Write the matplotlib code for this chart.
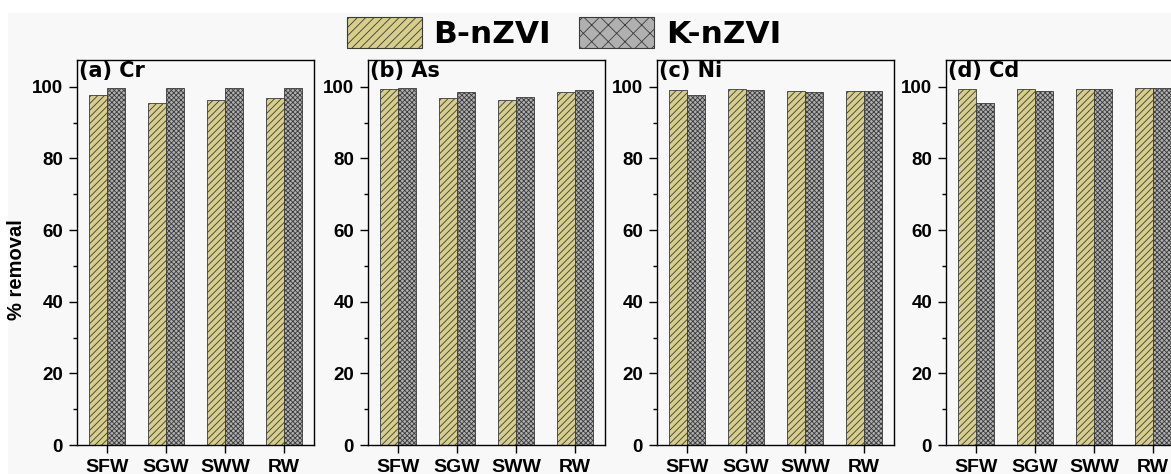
import matplotlib
matplotlib.use("Agg")
import matplotlib.pyplot as plt
from matplotlib.patches import Patch, Rectangle
from matplotlib.ticker import MultipleLocator
import numpy as np

# Water matrices
categories = ["SFW", "SGW", "SWW", "RW"]

# % removal per metal for the two nanomaterials
panel_titles = ["(a) Cr", "(b) As", "(c) Ni", "(d) Cd"]
b_nzvi_cr = [97.7, 95.5, 96.3, 96.8]
k_nzvi_cr = [99.8, 99.8, 99.8, 99.8]
b_nzvi_as = [99.3, 97.0, 96.2, 98.6]
k_nzvi_as = [99.6, 98.6, 97.1, 99.1]
b_nzvi_ni = [99.1, 99.3, 98.8, 98.8]
k_nzvi_ni = [97.8, 99.1, 98.7, 98.8]
b_nzvi_cd = [99.5, 99.3, 99.5, 99.6]
k_nzvi_cd = [95.5, 98.8, 99.4, 99.6]

series_names = ["B-nZVI", "K-nZVI"]
b_sets = [b_nzvi_cr, b_nzvi_as, b_nzvi_ni, b_nzvi_cd]
k_sets = [k_nzvi_cr, k_nzvi_as, k_nzvi_ni, k_nzvi_cd]

B_FACE = "#d6ce8a"
K_FACE = "#b0b0b0"
EDGE = "#3a3a3a"
BG = "#f8f8f8"

plt.rcParams["hatch.linewidth"] = 0.6
plt.rcParams["font.family"] = ["Liberation Sans", "DejaVu Sans"]

W, H = 1171, 474
fig = plt.figure(figsize=(W / 100, H / 100), dpi=100)
fig.patch.set_facecolor("white")
fig.patches.append(Rectangle((8 / W, 0), 1, 1 - 13 / H, transform=fig.transFigure,
                             facecolor=BG, edgecolor="none", zorder=-10))

lefts = [77, 368, 657, 946]
ax_w, ax_top, ax_bot = 237, 60, 445
x = np.arange(len(categories))
bw = 0.305

for i, (left, title) in enumerate(zip(lefts, panel_titles)):
    ax = fig.add_axes([left / W, (H - ax_bot) / H, ax_w / W, (ax_bot - ax_top) / H])
    ax.set_facecolor(BG)
    ax.bar(x - bw / 2, b_sets[i], bw, facecolor=B_FACE, edgecolor=EDGE,
           hatch="/////", linewidth=0.6)
    ax.bar(x + bw / 2, k_sets[i], bw, facecolor=K_FACE, edgecolor=EDGE,
           hatch="xxxxxxx", linewidth=0.6)
    ax.set_xlim(-0.51, 3.51)
    ax.set_ylim(0, 107.5)
    ax.set_xticks(x)
    ax.set_xticklabels(categories, fontsize=14, fontweight="bold")
    ax.yaxis.set_major_locator(MultipleLocator(20))
    ax.yaxis.set_minor_locator(MultipleLocator(10))
    ax.tick_params(axis="y", which="major", length=6, width=1, labelsize=13.5, pad=4)
    ax.tick_params(axis="y", which="minor", length=3, width=1)
    ax.tick_params(axis="x", length=6, width=1, pad=4)
    for lab in ax.get_yticklabels():
        lab.set_fontweight("bold")
    for sp in ax.spines.values():
        sp.set_linewidth(1.0)
        sp.set_color("black")
    ax.text(0.01, 0.998, title, transform=ax.transAxes, ha="left", va="top",
            fontsize=15, fontweight="bold", family="DejaVu Sans")

fig.text(17 / W, 1 - 270 / H, "% removal", rotation=90, ha="center", va="center",
         fontsize=14.5, fontweight="bold")

handles = [Patch(facecolor=B_FACE, edgecolor=EDGE, hatch="////", linewidth=0.8),
           Patch(facecolor=K_FACE, edgecolor=EDGE, hatch="xx", linewidth=0.8)]
fig.legend(handles, series_names, loc="center", bbox_to_anchor=(564 / W, 1 - 33 / H),
           ncol=2, frameon=False, prop={"family": "DejaVu Sans", "weight": "bold", "size": 22.5},
           handlelength=2.4, handleheight=1.15, handletextpad=0.38, columnspacing=0.9,
           borderpad=0, borderaxespad=0)

fig.savefig("out.png", dpi=100, facecolor=fig.get_facecolor())
